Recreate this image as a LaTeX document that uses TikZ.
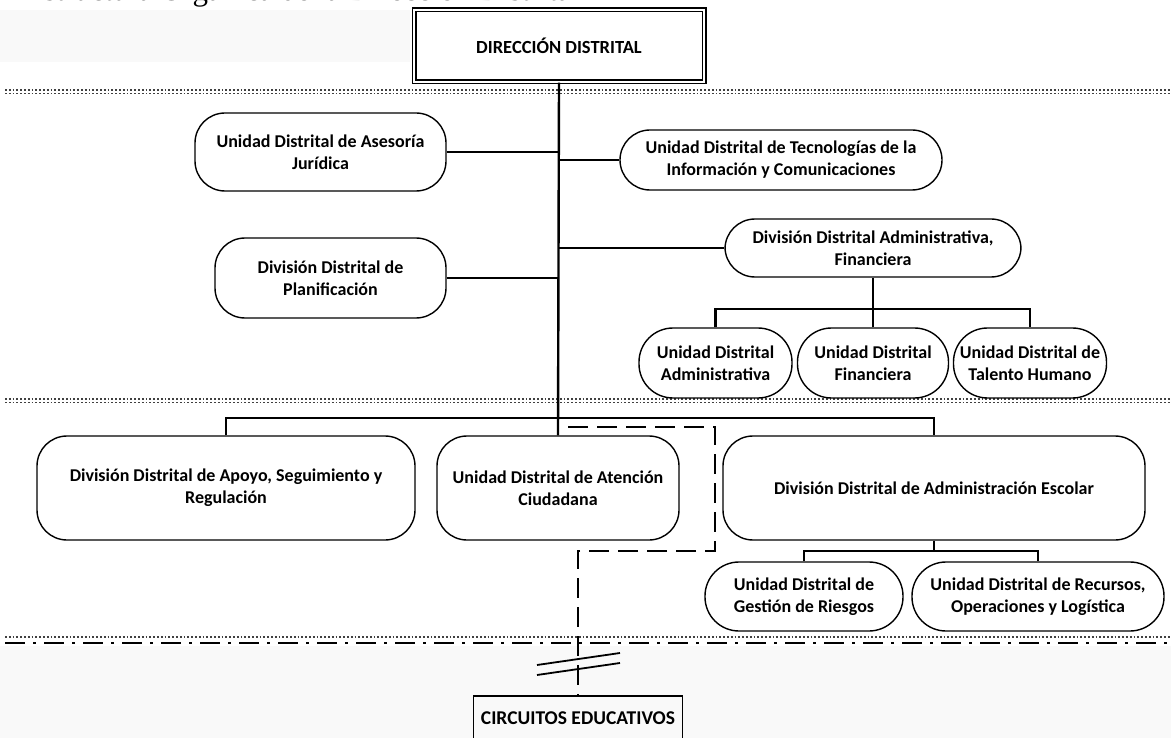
\documentclass[tikz,border=0pt]{standalone}
\usepackage{fontspec}
\setmainfont{Carlito}
\newfontfamily\titlefont{Liberation Serif}
\begin{document}
\begin{tikzpicture}[x=1pt,y=-1pt,
  unit/.style={draw, line width=1.4pt, rounded corners=30pt, align=center, inner sep=0pt,
    font=\fontsize{18}{22}\selectfont\bfseries},
  subunit/.style={unit, rounded corners=34pt},
  conn/.style={line width=2.4pt},
  dashline/.style={line width=2.6pt, dash pattern=on 20pt off 9pt},
  sepdot/.style={line width=1.8pt, dash pattern=on 1.8pt off 2pt, black!75},
  sepdashdot/.style={line width=2.6pt, dash pattern=on 20pt off 8pt on 3pt off 8pt}
]
\useasboundingbox (0,0) rectangle (1171,738);
\fill[gray!5] (0,10) rectangle (410,62);
\fill[gray!5] (0,646) rectangle (1171,738);
% clipped title
\node[anchor=base west, inner sep=0pt, font=\titlefont\fontsize{31}{31}\selectfont] (title) at (25,0.5) {Estructura Orgánica de la Dirección Distrital};
% separators
\draw[sepdot] (5,90) -- (1171,90);
\draw[sepdot] (5,93.5) -- (1171,93.5);
\draw[sepdot] (5,399) -- (1171,399);
\draw[sepdot] (5,402.5) -- (1171,402.5);
\draw[sepdot] (5,637) -- (1171,637);
\draw[sepdashdot] (5,643) -- (1171,643);
% nodes
\node[draw, double, line width=1.4pt, double distance=2.2pt, minimum width=290pt, minimum height=72pt,
  font=\fontsize{18.5}{20}\selectfont\bfseries] (dir) at (559,46) {DIRECCIÓN DISTRITAL};
\node[unit, minimum width=251pt, minimum height=78pt] (ases) at (320.5,152) {Unidad Distrital de Asesoría\\Jurídica};
\node[unit, minimum width=231pt, minimum height=80pt] (plan) at (330.5,278) {División Distrital de\\Planificación};
\node[unit, minimum width=322pt, minimum height=60pt] (tec) at (781,160) {Unidad Distrital de Tecnologías de la\\Información y Comunicaciones};
\node[unit, minimum width=296pt, minimum height=58pt] (adfin) at (873,248) {División Distrital Administrativa,\\Financiera};
\node[subunit, minimum width=153pt, minimum height=70pt] (uadm) at (715.5,363) {Unidad Distrital\\Administrativa};
\node[subunit, minimum width=151pt, minimum height=70pt] (ufin) at (873,363) {Unidad Distrital\\Financiera};
\node[subunit, minimum width=153pt, minimum height=70pt] (utal) at (1030,363) {Unidad Distrital de\\Talento Humano};
\node[unit, minimum width=378pt, minimum height=104pt] (apoyo) at (226,488) {División Distrital de Apoyo, Seguimiento y\\Regulación};
\node[unit, minimum width=242pt, minimum height=104pt] (aten) at (558,488) {Unidad Distrital de Atención\\Ciudadana};
\node[unit, minimum width=422pt, minimum height=104pt] (esc) at (934,488) {División Distrital de Administración Escolar};
\node[subunit, minimum width=198pt, minimum height=69pt] (ries) at (804,596.5) {Unidad Distrital de\\Gestión de Riesgos};
\node[subunit, minimum width=252pt, minimum height=69pt] (recur) at (1038,596.5) {Unidad Distrital de Recursos,\\Operaciones y Logística};
\node[draw, line width=1.8pt, minimum width=209pt, minimum height=44pt, inner sep=0pt,
  font=\fontsize{19.5}{20}\selectfont\bfseries] (circ) at (578,718) {CIRCUITOS EDUCATIVOS};
% connectors
\draw[conn] (dir.south) -- (aten.north);
\draw[conn] (ases.east) -- (ases.east -| dir.south);
\draw[conn] (plan.east) -- (plan.east -| dir.south);
\draw[conn] (tec.west) -- (tec.west -| dir.south);
\draw[conn] (adfin.west) -- (adfin.west -| dir.south);
\coordinate (b1) at (873,309);
\draw[conn] (adfin.south) -- (b1);
\draw[conn] (uadm.north) -- (uadm.north |- b1) -- (utal.north |- b1) -- (utal.north);
\draw[conn] (ufin.north) -- (ufin.north |- b1);
\coordinate (b2) at (558,418);
\draw[conn] (apoyo.north) -- (apoyo.north |- b2) -- (esc.north |- b2) -- (esc.north);
\coordinate (b3) at (934,551);
\draw[conn] (esc.south) -- (b3);
\draw[conn] (ries.north) -- (ries.north |- b3) -- (recur.north |- b3) -- (recur.north);
% dashed link to circuits
\coordinate (d0) at (568,427);
\coordinate (d1) at (715,551);
\draw[dashline] (d0) -- (d0 -| d1) -- (d1) -- (d1 -| circ.north) -- (circ.north);
% break marks
\draw[line width=1.8pt] (537,665) -- (620,653);
\draw[line width=1.8pt] (537,675) -- (620,663);
\end{tikzpicture}
\end{document}
